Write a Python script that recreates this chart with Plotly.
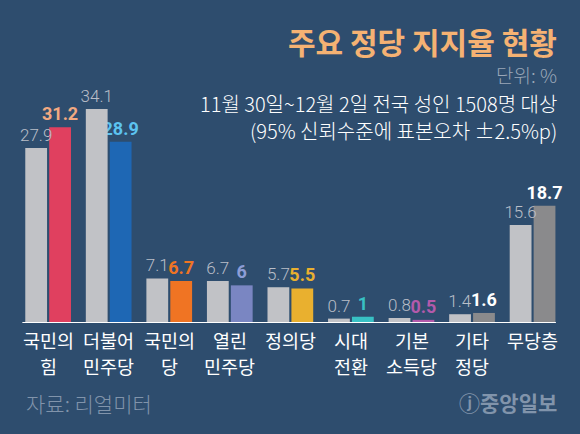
import plotly.graph_objects as go

name_top = ["국민의", "더불어", "국민의", "열린", "정의당", "시대", "기본", "기타", "무당층"]
name_bottom = ["힘", "민주당", "당", "민주당", "", "전환", "소득당", "정당", ""]
prev_vals = [27.9, 34.1, 7.1, 6.7, 5.7, 0.7, 0.8, 1.4, 15.6]
curr_vals = [31.2, 28.9, 6.7, 6, 5.5, 1, 0.5, 1.6, 18.7]
prev_labels = ["27.9", "34.1", "7.1", "6.7", "5.7", "0.7", "0.8", "1.4", "15.6"]
curr_labels = ["31.2", "28.9", "6.7", "6", "5.5", "1", "0.5", "1.6", "18.7"]

bar_colors = ["#e0405f", "#1e67b4", "#f07423", "#7a86c2", "#e9b02f",
              "#38c1c4", "#b35aab", "#8a8a8c", "#8a8a8c"]
label_colors = ["#f2a981", "#5cc3f0", "#f07423", "#8d9dd6", "#e9b02f",
                "#38c1c4", "#b35aab", "#ffffff", "#ffffff"]

BG = "#2e4d6e"
FONT = "Noto Sans CJK KR"
NUM = "Roboto, Noto Sans CJK KR"
xs = list(range(len(name_top)))

fig = go.Figure()
# colored (current) bars first so the gray labels sit on top
fig.add_bar(x=xs, y=curr_vals, text=curr_labels, offset=0.015, width=0.36,
            textposition="outside", constraintext="none", cliponaxis=False,
            marker_color=bar_colors, marker_line_width=0,
            textfont=dict(color=label_colors, size=18, family=NUM, weight=700))
fig.add_bar(x=xs, y=prev_vals, text=prev_labels, offset=-0.38, width=0.36,
            textposition="outside", constraintext="none", cliponaxis=False,
            marker_color="#c1c2c6", marker_line_width=0,
            textfont=dict(color="#b9bec8", size=17, family=NUM, weight=300))

# baseline
fig.add_shape(type="line", xref="paper", yref="y", x0=0.008, x1=0.987, y0=0, y1=0,
              line=dict(color="white", width=2))

# category names, two rows
for i in xs:
    for row, y in ((name_top, -0.068), (name_bottom, -0.172)):
        if row[i]:
            fig.add_annotation(text=row[i], x=i, xref="x", y=y, yref="paper",
                               xanchor="center", yanchor="middle", showarrow=False,
                               borderpad=0,
                               font=dict(size=18.5, color="white", family=FONT))

def note(text, x, y, anchor, size, color, weight=400):
    fig.add_annotation(text=text, xref="paper", yref="paper", x=x, y=y,
                       xanchor=anchor, yanchor="middle", showarrow=False, borderpad=0,
                       font=dict(size=size, color=color, family=FONT, weight=weight))

note("주요 정당 지지율 현황", 0.99, 1.124, "right", 30, "#f5b273", 700)
note("단위: %", 0.99, 0.99, "right", 19, "#9aa7b8", 300)
note("11월 30일~12월 2일 전국 성인 1508명 대상", 0.99, 0.873, "right", 20, "white", 300)
note("(95% 신뢰수준에 표본오차 ±2.5%p)", 0.99, 0.767, "right", 20, "white", 300)
note("자료: 리얼미터", 0.012, -0.319, "left", 21, "#8194ab", 300)
note("ⓙ중앙일보", 0.99, -0.315, "right", 21, "#8194ab", 700)

fig.update_layout(
    width=580, height=434,
    margin=dict(l=18, r=17, t=72, b=111),
    paper_bgcolor=BG, plot_bgcolor=BG,
    barmode="overlay",
    showlegend=False,
    font=dict(family=FONT, color="white"),
    xaxis=dict(range=[-0.5, len(xs) - 0.5], showgrid=False, zeroline=False,
               showline=False, ticks="", showticklabels=False),
    yaxis=dict(range=[0, 40], visible=False, showgrid=False, zeroline=False),
)

fig.write_html("out.html", config={"displayModeBar": False},
               post_script="document.body.style.margin='0';")
